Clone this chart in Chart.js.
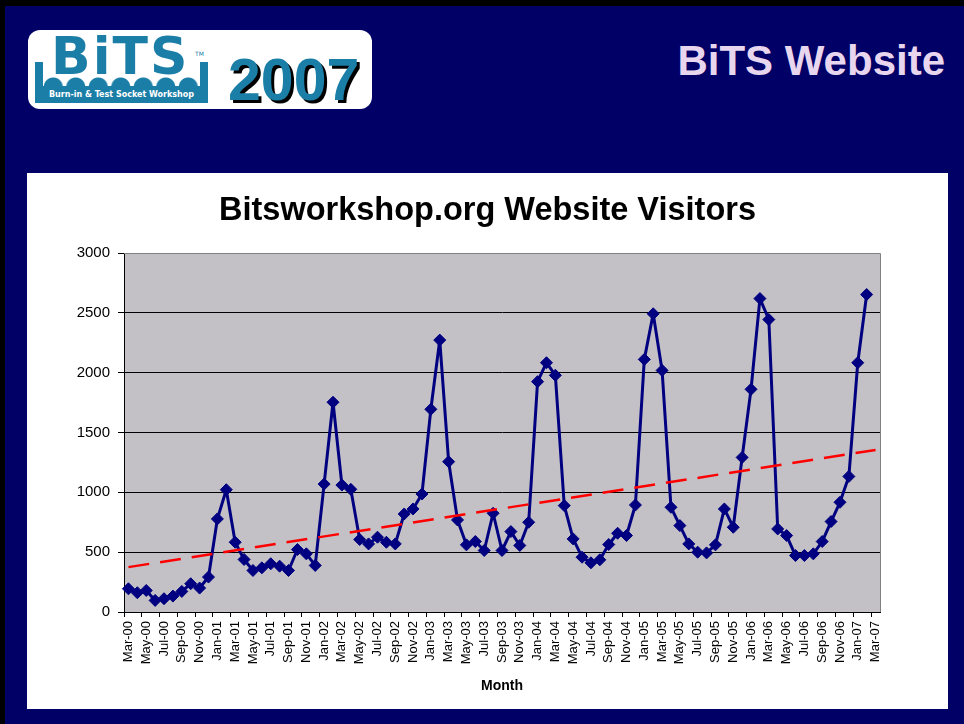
<!DOCTYPE html>
<html>
<head>
<meta charset="utf-8">
<script src="https://cdn.jsdelivr.net/npm/chart.js@4.4.0/dist/chart.umd.min.js"></script>
<style>
  body { margin: 0; width: 964px; height: 724px; background: #000066; position: relative; overflow: hidden; font-family: "Liberation Sans", Arial, sans-serif; }
  #frame { position: absolute; left: 0; top: 0; width: 964px; height: 724px; box-sizing: border-box; border-top: 6px solid #000; border-left: 5px solid #000; }
  #logo { position: absolute; left: 28px; top: 30px; width: 344px; height: 79px; background: #fff; border-radius: 12px; }
  #bits { position: absolute; left: 51px; top: 30px; font: bold 52px/52px "DejaVu Sans", sans-serif; color: #1b7ea6; letter-spacing: 2px; }
  #tm { position: absolute; left: 195px; top: 50px; font: 6px "DejaVu Sans", sans-serif; color: #1b7ea6; }
  .bar { position: absolute; top: 62px; width: 8px; height: 41px; background: #1b7ea6; }
  #bumps { position: absolute; left: 42px; top: 76px; width: 158px; height: 11px; background: radial-gradient(circle at 50% 100%, #1b7ea6 9px, transparent 10px) 0 0 / 22.5px 11px repeat-x; }
  #band { position: absolute; left: 35px; top: 86px; width: 173px; height: 17px; background: #1b7ea6; color: #fff; font: bold 8px/17px "DejaVu Sans", sans-serif; text-align: center; }
  #year { position: absolute; left: 228px; top: 51px; font: bold 59px/59px "Liberation Sans", Arial, sans-serif; color: #1b7ea6; text-shadow: 3px 3px 0 #000; }
  #head { position: absolute; right: 19px; top: 40px; font: bold 42px/42px "Liberation Sans", Arial, sans-serif; color: #e8d6ee; }
  #box { position: absolute; left: 27px; top: 173px; width: 921px; height: 536px; background: #fff; }
  #chart { position: absolute; left: 0; top: 0; }
</style>
</head>
<body>
<div id="frame"></div>
<div id="logo"></div>
<div id="bits">BiTS</div><span id="tm">TM</span>
<div class="bar" style="left:35px"></div><div class="bar" style="left:200px"></div>
<div id="bumps"></div>
<div id="band">Burn-in &amp; Test Socket Workshop</div>
<div id="year">2007</div>
<div id="head">BiTS Website</div>
<div id="box"><canvas id="chart" width="921" height="536"></canvas></div>
<script>
// months on the category axis (Mar-07 has no value yet)
const months = [
  'Mar-00','Apr-00','May-00','Jun-00','Jul-00','Aug-00','Sep-00','Oct-00','Nov-00','Dec-00',
  'Jan-01','Feb-01','Mar-01','Apr-01','May-01','Jun-01','Jul-01','Aug-01','Sep-01','Oct-01','Nov-01','Dec-01',
  'Jan-02','Feb-02','Mar-02','Apr-02','May-02','Jun-02','Jul-02','Aug-02','Sep-02','Oct-02','Nov-02','Dec-02',
  'Jan-03','Feb-03','Mar-03','Apr-03','May-03','Jun-03','Jul-03','Aug-03','Sep-03','Oct-03','Nov-03','Dec-03',
  'Jan-04','Feb-04','Mar-04','Apr-04','May-04','Jun-04','Jul-04','Aug-04','Sep-04','Oct-04','Nov-04','Dec-04',
  'Jan-05','Feb-05','Mar-05','Apr-05','May-05','Jun-05','Jul-05','Aug-05','Sep-05','Oct-05','Nov-05','Dec-05',
  'Jan-06','Feb-06','Mar-06','Apr-06','May-06','Jun-06','Jul-06','Aug-06','Sep-06','Oct-06','Nov-06','Dec-06',
  'Jan-07','Feb-07','Mar-07'
];

const visitors = [
  194, 161, 180, 97, 111, 133, 172, 236, 200, 292,
  778, 1022, 583, 439, 347, 369, 403, 383, 347, 522, 486, 389,
  1069, 1753, 1061, 1025, 606, 569, 625, 583, 569, 819, 861, 986,
  1694, 2272, 1256, 769, 561, 589, 514, 825, 514, 672, 556, 750,
  1925, 2083, 1978, 889, 611, 458, 411, 436, 564, 658, 639, 894,
  2111, 2492, 2019, 875, 722, 569, 500, 494, 561, 861, 708, 1292,
  1861, 2619, 2444, 694, 639, 472, 472, 486, 589, 756, 917, 1133,
  2083, 2653, null
];

// linear trend end points
const trendMonths = ['Mar-00', 'Mar-07'];
const trendValues = [375, 1354];

const yTicks = [0, 500, 1000, 1500, 2000, 2500, 3000];

const FONT = '"Liberation Sans", Arial, sans-serif';

// grey plot area with a grey frame on top and right
const plotBg = {
  id: 'plotBg',
  beforeDraw(chart) {
    const { ctx, chartArea: a } = chart;
    ctx.save();
    ctx.fillStyle = '#c3c1c5';
    ctx.fillRect(a.left, a.top, a.right - a.left, a.bottom - a.top);
    ctx.restore();
  },
  beforeDatasetsDraw(chart) {
    const { ctx, chartArea: a } = chart;
    ctx.save();
    ctx.strokeStyle = '#808080';
    ctx.lineWidth = 1;
    ctx.beginPath();
    ctx.moveTo(a.left, a.top + 0.5);
    ctx.lineTo(a.right + 0.5, a.top + 0.5);
    ctx.lineTo(a.right + 0.5, a.bottom);
    ctx.stroke();
    ctx.restore();
  }
};

new Chart(document.getElementById('chart'), {
  type: 'line',
  data: {
    labels: months,
    datasets: [
      {
        label: 'Trend',
        data: trendMonths.map((m, i) => ({ x: m, y: trendValues[i] })),
        borderColor: '#ff0000',
        borderWidth: 2.5,
        borderDash: [21, 11],
        pointRadius: 0,
        order: 0
      },
      {
        label: 'Visitors',
        data: visitors,
        borderColor: '#000080',
        borderWidth: 3,
        borderJoinStyle: 'round',
        backgroundColor: '#000080',
        pointStyle: 'rectRot',
        pointRadius: 6,
        pointBorderWidth: 1,
        pointBorderColor: '#000080',
        pointBackgroundColor: '#000080',
        tension: 0,
        order: 1
      }
    ]
  },
  options: {
    responsive: false,
    animation: false,
    layout: { padding: { left: 0, right: 0, top: 0, bottom: 14 } },
    plugins: {
      legend: { display: false },
      tooltip: { enabled: false },
      title: {
        display: true,
        text: 'Bitsworkshop.org Website Visitors',
        color: '#000',
        font: { family: FONT, size: 32.5, weight: 'bold' },
        padding: { top: 19, bottom: 22 }
      }
    },
    scales: {
      x: {
        offset: true,
        grid: {
          offset: true,
          drawOnChartArea: false,
          tickLength: 5,
          color: ctx => ctx.index % 2 === 0 ? '#000' : 'rgba(0,0,0,0)'
        },
        border: { color: '#000', width: 1 },
        ticks: {
          autoSkip: false, maxRotation: 90, minRotation: 90, padding: 4,
          color: '#000', font: { family: FONT, size: 13 },
          callback: (v, i) => i % 2 === 0 ? months[i] : ''
        },
        title: {
          display: true, text: 'Month', color: '#000',
          font: { family: FONT, size: 14, weight: 'bold' },
          padding: { top: 6, bottom: 0 }
        },
        afterFit: s => { s.height = 536 - 439 - 14; }
      },
      y: {
        min: yTicks[0],
        max: yTicks[yTicks.length - 1],
        afterBuildTicks: s => { s.ticks = yTicks.map(v => ({ value: v })); },
        ticks: { color: '#000', font: { family: FONT, size: 15 }, padding: 8, callback: v => String(v) },
        grid: {
          color: ctx => ctx.tick && ctx.tick.value === 3000 ? '#808080' : '#000',
          tickColor: '#000',
          tickLength: 6
        },
        border: { color: '#000', width: 1 },
        afterFit: s => { s.width = 97; }
      },
      // empty right-hand spacer so the plot ends where the reference ends
      yRight: {
        position: 'right',
        display: true,
        grid: { display: false },
        border: { display: false },
        ticks: { display: false },
        afterFit: s => { s.width = 68; }
      }
    }
  },
  plugins: [plotBg]
});
</script>
</body>
</html>
